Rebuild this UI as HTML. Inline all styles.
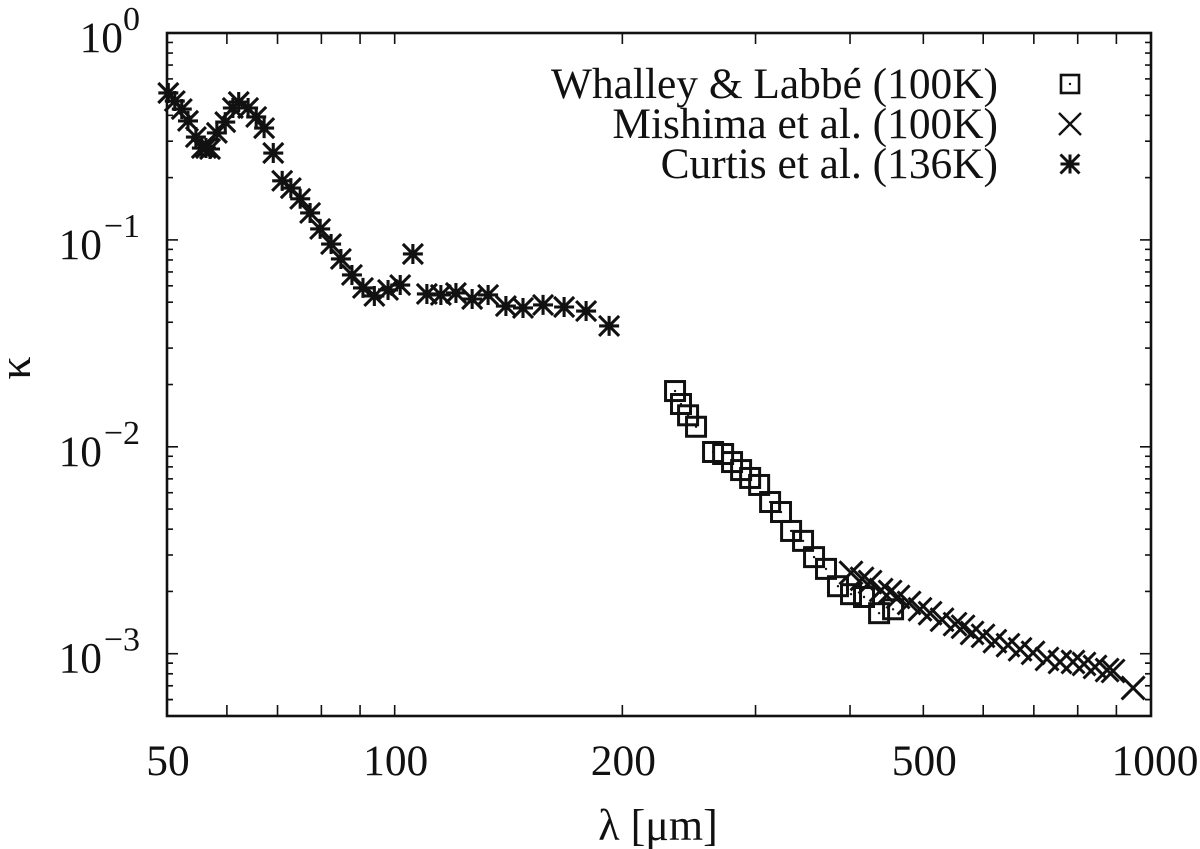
<!DOCTYPE html>
<html lang="en">
<head>
<meta charset="utf-8">
<title>Opacity of ice versus wavelength</title>
<style>
html,body{margin:0;padding:0;background:#fff;width:1200px;height:849px;overflow:hidden}
svg{display:block}
text{font-family:"Liberation Serif",serif;fill:#111;font-size:43.4px}
</style>
</head>
<body>
<svg id="chart" width="1200" height="849" viewBox="0 0 1200 849" xmlns="http://www.w3.org/2000/svg">
<rect x="0" y="0" width="1200" height="849" fill="#fff"/>
<g id="ticks"></g>
<g id="marks"></g>
<rect id="frame" fill="none" stroke="#111" stroke-width="2.6"/>
<g id="labels"></g>
<text x="658" y="840" text-anchor="middle" style="font-size:44px">λ [μm]</text>
<text transform="translate(30,368) rotate(-90)" text-anchor="middle" style="font-size:46px">κ</text>
<g>
<text x="998" y="98" text-anchor="end">Whalley &amp; Labbé (100K)</text>
<text x="998" y="138" text-anchor="end">Mishima et al. (100K)</text>
<text x="998" y="178" text-anchor="end">Curtis et al. (136K)</text>
<g id="legend-marks"></g>
</g>
</svg>
<script>
const curtisLambda = [50.2,51.2,52.3,53.3,54.6,55.6,56.3,57.0,58.2,59.7,61.1,62.2,64.0,65.6,67.2,69.1,71.0,72.9,75.0,77.3,79.7,82.4,84.9,87.8,90.8,94.0,98.0,101.7,105.7,110.3,115.1,120.5,126.6,132.9,140.3,147.8,157.1,167.5,179.1,192.1];
const curtisKappa = [0.513,0.469,0.429,0.376,0.314,0.278,0.278,0.275,0.329,0.371,0.434,0.464,0.434,0.393,0.347,0.263,0.193,0.178,0.158,0.135,0.113,0.0955,0.0809,0.0677,0.0586,0.0536,0.0573,0.0605,0.0855,0.0548,0.0542,0.0554,0.0518,0.0542,0.0479,0.0469,0.0485,0.0474,0.0453,0.0384];
const whalleyLambda = [234.8,239.1,244.3,250.3,263.6,271.8,279.3,287.1,295.1,303.3,313.6,324.2,334.3,346.7,358.5,371.8,385.6,401.2,417.4,437.0,456.0];
const whalleyKappa = [0.0186,0.0161,0.0142,0.0125,0.00944,0.00923,0.00844,0.00772,0.00707,0.00654,0.00541,0.00484,0.00392,0.00351,0.00293,0.00257,0.00212,0.00194,0.00188,0.00157,0.00164];
const mishimaLambda = [401.2,414.9,425.2,439.7,451.9,463.0,478.8,495.0,510.4,529.3,550.7,564.3,580.0,599.7,621.7,647.0,671.2,698.3,728.6,758.0,788.6,815.5,843.3,874.9,891.0,947.0];
const mishimaKappa = [0.00246,0.0023,0.00222,0.00203,0.00199,0.00188,0.00176,0.00164,0.00157,0.00146,0.00139,0.00135,0.00126,0.00122,0.00115,0.0011,0.00105,0.00101,0.000943,0.000912,0.000912,0.000892,0.000863,0.000834,0.000825,0.000683];
const xTickValues = [50,60,70,80,90,100,200,300,400,500,600,700,800,900,1000];
const xTickLabels = [50,100,200,500,1000];
const yDecades = [0,-1,-2,-3];
const yMinorMultiples = [2,3,4,5,6,7,8,9];
const xDomain = [50,1000];
const yDomain = [0.0005,1];

const NS = 'http://www.w3.org/2000/svg';
const plot = {left:167,right:1151,top:33,bottom:716};
const xScale = v => plot.left + (Math.log10(v) - Math.log10(xDomain[0])) / (Math.log10(xDomain[1]) - Math.log10(xDomain[0])) * (plot.right - plot.left);
const yScale = v => plot.bottom - (Math.log10(v) - Math.log10(yDomain[0])) / (Math.log10(yDomain[1]) - Math.log10(yDomain[0])) * (plot.bottom - plot.top);
const ink = '#111';

function node(tag, attrs, parent) {
  const el = document.createElementNS(NS, tag);
  for (const k in attrs) el.setAttribute(k, attrs[k]);
  parent.appendChild(el);
  return el;
}

const frame = document.getElementById('frame');
frame.setAttribute('x', plot.left);
frame.setAttribute('y', plot.top);
frame.setAttribute('width', plot.right - plot.left);
frame.setAttribute('height', plot.bottom - plot.top);

const ticks = document.getElementById('ticks');
function tickLine(x1, y1, x2, y2, name) {
  const el = node('line', {x1, y1, x2, y2, stroke: ink, 'stroke-width': 1.6}, ticks);
  
  
}
xTickValues.forEach(v => {
  const x = xScale(v);
  tickLine(x, plot.bottom, x, plot.bottom - 11, 'x-tick-' + v);
  tickLine(x, plot.top, x, plot.top + 11, 'x-tick-top-' + v);
});
yDecades.forEach(d => {
  const major = Math.pow(10, d);
  const y = yScale(major);
  tickLine(plot.left, y, plot.left + 11, y, 'y-tick-major');
  tickLine(plot.right, y, plot.right - 11, y, 'y-tick-major-right');
  yMinorMultiples.forEach(m => {
    const val = major * m / 10;
    if (val < yDomain[0]) return;
    const ym = yScale(val);
    tickLine(plot.left, ym, plot.left + 6, ym, 'y-tick-minor');
    tickLine(plot.right, ym, plot.right - 6, ym, 'y-tick-minor-right');
  });
});
[6,7,8,9].forEach(m => {
  const ym = yScale(0.001 * m / 10);
  tickLine(plot.left, ym, plot.left + 6, ym, 'y-tick-minor');
  tickLine(plot.right, ym, plot.right - 6, ym, 'y-tick-minor-right');
});

const labels = document.getElementById('labels');
xTickLabels.forEach(v => {
  const t = node('text', {x: xScale(v) + (v === 1000 ? 4 : 1), y: 775, 'text-anchor': 'middle'}, labels);
  
  
  t.textContent = v;
});
yDecades.forEach(d => {
  const base = yScale(Math.pow(10, d)) + 19;
  const sup = d === 0 ? '0' : '\u2212' + Math.abs(d);
  const supEl = node('text', {x: 140, y: base - 22, 'text-anchor': 'end', style: 'font-size:34px'}, labels);
  
  
  supEl.textContent = sup;
  const baseEl = node('text', {x: d === 0 ? 123 : 102, y: base, 'text-anchor': 'end'}, labels);
  
  
  baseEl.textContent = '10';
});

function drawSquare(g, x, y, r, w) {
  node('rect', {x: x - r, y: y - r, width: 2 * r, height: 2 * r, fill: 'none', stroke: ink, 'stroke-width': w}, g);
  node('circle', {cx: x, cy: y, r: 1.2, fill: ink}, g);
}
function drawCross(g, x, y, r, w) {
  node('path', {d: `M${x-r} ${y-r}L${x+r} ${y+r}M${x-r} ${y+r}L${x+r} ${y-r}`, fill: 'none', stroke: ink, 'stroke-width': w}, g);
}
function drawStar(g, x, y, r, w) {
  node('path', {d: `M${x-r} ${y-r}L${x+r} ${y+r}M${x-r} ${y+r}L${x+r} ${y-r}M${x-r} ${y}L${x+r} ${y}M${x} ${y-r}L${x} ${y+r}`, fill: 'none', stroke: ink, 'stroke-width': w}, g);
}

const marks = document.getElementById('marks');
const whalleyGroup = node('g', {}, marks);


whalleyLambda.forEach((v, i) => drawSquare(whalleyGroup, xScale(v), yScale(whalleyKappa[i]), 9.5, 3));
const mishimaGroup = node('g', {}, marks);


mishimaLambda.forEach((v, i) => drawCross(mishimaGroup, xScale(v), yScale(mishimaKappa[i]), 11.5, 3));
const curtisGroup = node('g', {}, marks);


curtisLambda.forEach((v, i) => drawStar(curtisGroup, xScale(v), yScale(curtisKappa[i]), 10, 3.1));

const legendMarks = document.getElementById('legend-marks');
const legendSquare = node('g', {}, legendMarks);


drawSquare(legendSquare, 1070, 84, 9, 2.6);
const legendCross = node('g', {}, legendMarks);


drawCross(legendCross, 1070, 124, 11, 2.4);
const legendStar = node('g', {}, legendMarks);


drawStar(legendStar, 1070, 164, 9.5, 3);
</script>
</body>
</html>
